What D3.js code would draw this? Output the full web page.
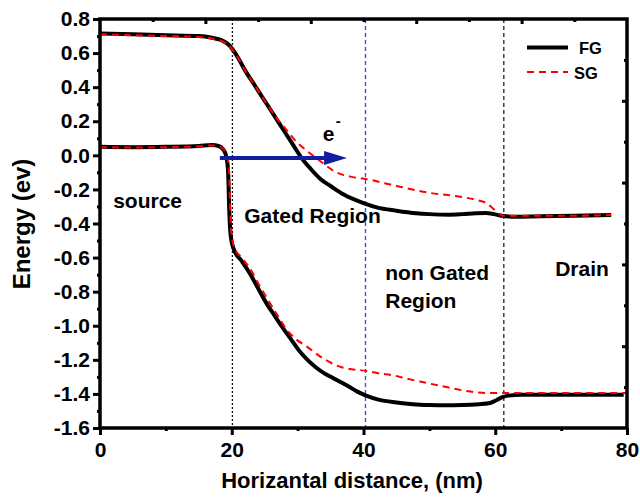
<!DOCTYPE html>
<html>
<head>
<meta charset="utf-8">
<script src="https://cdn.jsdelivr.net/npm/d3@7"></script>
<style>
  html, body { margin: 0; padding: 0; background: #fff; }
  svg text { font-family: "Liberation Sans", Arial, Helvetica, sans-serif; font-weight: bold; fill: #000; }
</style>
</head>
<body>
<svg id="chart" width="640" height="497"></svg>
<script>
// ---------------- DATA ----------------
const fgUpper = [[0,0.715],[5,0.71],[10,0.705],[15,0.70],[17,0.69],[18.5,0.675],[19.5,0.65],[20.2,0.618],[21,0.57],[22,0.50],[23.5,0.41],[25,0.32],[26.5,0.23],[28,0.14],[29.5,0.05],[30.5,-0.01],[32,-0.08],[33.5,-0.14],[35,-0.18],[37,-0.23],[40,-0.28],[42,-0.305],[45,-0.325],[48,-0.34],[50,-0.345],[53,-0.348],[55,-0.345],[57,-0.34],[58.6,-0.338],[59.8,-0.345],[61,-0.355],[63,-0.36],[67,-0.357],[72,-0.355],[77.6,-0.35]];
const sgUpper = [[0,0.71],[5,0.705],[10,0.70],[15,0.695],[17,0.685],[18.5,0.67],[19.5,0.645],[20.2,0.615],[21,0.57],[22,0.50],[23.5,0.41],[25,0.32],[26.8,0.22],[28.3,0.15],[29.8,0.08],[31.3,0.03],[33.3,-0.03],[35.9,-0.10],[38,-0.125],[40.5,-0.14],[45,-0.18],[50,-0.22],[55,-0.245],[57.5,-0.265],[58.6,-0.28],[59.6,-0.31],[60.5,-0.34],[61.3,-0.355],[65,-0.355],[70,-0.355],[77.6,-0.35]];
const fgLower = [[0,0.05],[5,0.048],[10,0.05],[15,0.055],[17,0.06],[18,0.055],[18.7,0.035],[19.2,-0.01],[19.45,-0.1],[19.6,-0.3],[19.75,-0.43],[19.95,-0.5],[20.3,-0.55],[21.5,-0.62],[22.7,-0.69],[24,-0.78],[25.3,-0.87],[26.5,-0.94],[27.7,-1.01],[29,-1.08],[30.3,-1.15],[31.5,-1.2],[32.8,-1.245],[34,-1.278],[35.3,-1.305],[36.5,-1.33],[37.9,-1.36],[39,-1.385],[40.4,-1.41],[42.4,-1.435],[45,-1.45],[47.5,-1.46],[50,-1.465],[52.5,-1.467],[55,-1.465],[57.5,-1.46],[59,-1.455],[60,-1.44],[61,-1.42],[62,-1.41],[64,-1.405],[70,-1.405],[75,-1.405],[79.5,-1.405]];
const sgLower = [[0,0.048],[5,0.046],[10,0.048],[15,0.053],[17,0.058],[18,0.053],[18.8,0.035],[19.3,-0.01],[19.6,-0.1],[19.75,-0.3],[19.9,-0.43],[20.1,-0.5],[20.4,-0.54],[21.5,-0.6],[22.7,-0.66],[24,-0.75],[25.3,-0.835],[26.8,-0.93],[28.3,-1.02],[29.8,-1.08],[31.3,-1.12],[33.8,-1.19],[36.8,-1.245],[40.4,-1.265],[42.4,-1.28],[44.4,-1.29],[46.5,-1.31],[49.5,-1.335],[52.6,-1.36],[56,-1.385],[59,-1.395],[61.7,-1.395],[66,-1.395],[72,-1.395],[79.8,-1.395]];

const xTicks = [0, 20, 40, 60, 80];
const xMinorTicks = [10, 30, 50, 70];
const yTicks = [0.8, 0.6, 0.4, 0.2, 0.0, -0.2, -0.4, -0.6, -0.8, -1.0, -1.2, -1.4, -1.6];
const yMinorTicks = [0.7, 0.5, 0.3, 0.1, -0.1, -0.3, -0.5, -0.7, -0.9, -1.1, -1.3, -1.5];
const topTicks = [8, 16, 24, 32, 40, 48, 56, 64, 72];
const rightTicks = [0.1, 0.2, 0.3, 0.4, 0.5, 0.6, 0.7, 0.8, 0.9];

const boundaries = [
  {x: 20.1, color: "#111", dash: "2,2"},
  {x: 40.3, color: "#3346f0", dash: "4,3"},
  {x: 61.3, color: "#222", dash: "4,3"}
];
const regionLabels = [
  {text: "source", x: 2, y: -0.31},
  {text: "Gated Region", x: 21.9, y: -0.395},
  {text: "non Gated", x: 43.3, y: -0.73},
  {text: "Region", x: 43.3, y: -0.895},
  {text: "Drain", x: 69.1, y: -0.71}
];
const eArrow = {x0: 18.2, x1: 37.5, y: -0.015};
const series = [
  {name: "FG", color: "#000", width: 4, dash: null},
  {name: "SG", color: "#ff0000", width: 2, dash: "7,5"}
];

// ---------------- CHART ----------------
const svg = d3.select("#chart");
const L = 100, R = 627, T = 19, B = 428;
const x = d3.scaleLinear().domain([0, 80]).range([L, R]);
const y = d3.scaleLinear().domain([-1.6, 0.8]).range([B, T]);
const yr = d3.scaleLinear().domain([0, 1]).range([B, T]);

// boundaries
svg.selectAll("line.bound").data(boundaries).enter().append("line")
  .attr("x1", d => x(d.x)).attr("x2", d => x(d.x))
  .attr("y1", T).attr("y2", B)
  .attr("stroke", d => d.color).attr("stroke-width", 1.3)
  .attr("stroke-dasharray", d => d.dash);

// curves
const line = d3.line().x(d => x(d[0])).y(d => y(d[1])).curve(d3.curveMonotoneX);
[[fgUpper, 0], [fgLower, 0], [sgUpper, 1], [sgLower, 1]].forEach(([data, si]) => {
  const s = series[si];
  svg.append("path").datum(data).attr("d", line)
    .attr("fill", "none").attr("stroke", s.color).attr("stroke-width", s.width)
    .attr("stroke-dasharray", s.dash).attr("stroke-linejoin", "round");
});

// arrow
const ax0 = x(eArrow.x0), ax1 = x(eArrow.x1), ay = y(eArrow.y);
svg.append("line").attr("x1", ax0).attr("x2", ax1 - 18).attr("y1", ay).attr("y2", ay)
  .attr("stroke", "#0f1f9f").attr("stroke-width", 4);
svg.append("path")
  .attr("d", `M${ax1 - 23},${ay - 7} L${ax1},${ay} L${ax1 - 23},${ay + 7} Z`)
  .attr("fill", "#0f1f9f");
svg.append("text").attr("x", x(33.8)).attr("y", y(0.083)).attr("font-size", 21).text("e");
svg.append("text").attr("x", x(35.8)).attr("y", y(0.17)).attr("font-size", 15).text("-");

// region labels
svg.selectAll("text.region").data(regionLabels).enter().append("text")
  .attr("x", d => x(d.x)).attr("y", d => y(d.y)).attr("font-size", 21).text(d => d.text);

// axes
const fmt = d => d.toFixed(1);
const gL = svg.append("g").attr("transform", `translate(${L},0)`)
  .call(d3.axisLeft(y).tickValues(yTicks).tickSize(7).tickPadding(3).tickFormat(fmt));
const gLm = svg.append("g").attr("transform", `translate(${L},0)`)
  .call(d3.axisLeft(y).tickValues(yMinorTicks).tickSize(3).tickFormat(""));
const gB = svg.append("g").attr("transform", `translate(0,${B})`)
  .call(d3.axisBottom(x).tickValues(xTicks).tickSize(7).tickPadding(7).tickFormat(d3.format("d")));
const gBm = svg.append("g").attr("transform", `translate(0,${B})`)
  .call(d3.axisBottom(x).tickValues(xMinorTicks).tickSize(3).tickFormat(""));
const gT = svg.append("g").attr("transform", `translate(0,${T})`)
  .call(d3.axisBottom(x).tickValues(topTicks).tickSize(0).tickFormat(""));
gT.selectAll(".tick line").attr("y2", d => (d % 16 === 0 ? 5 : 3));
const gR = svg.append("g").attr("transform", `translate(${R},0)`)
  .call(d3.axisLeft(yr).tickValues(rightTicks).tickSize(0).tickFormat(""));
gR.selectAll(".tick line").attr("x2", (d, i) => ((i + 1) % 2 === 0 ? -5 : -3));

[gL, gLm, gB, gBm, gT, gR].forEach(g => {
  g.select(".domain").remove();
  g.selectAll(".tick line").attr("stroke", "#000").attr("stroke-width", 3);
  g.selectAll("text").attr("font-size", 21).attr("fill", "#000")
    .style("font-family", "'Liberation Sans', Arial, sans-serif").style("font-weight", "bold");
});

// frame
svg.append("rect").attr("x", L).attr("y", T).attr("width", R - L).attr("height", B - T)
  .attr("fill", "none").attr("stroke", "#000").attr("stroke-width", 3.5);

// axis titles
svg.append("text").attr("x", 352).attr("y", 488).attr("text-anchor", "middle")
  .attr("font-size", 22).text("Horizantal distance, (nm)");
svg.append("text").attr("transform", "translate(30,224) rotate(-90)")
  .attr("text-anchor", "middle").attr("font-size", 24).text("Energy (ev)");

// legend
const leg = svg.append("g");
series.forEach((s, i) => {
  const ly = 47.5 + i * 24.5;
  leg.append("line").attr("x1", 527).attr("x2", 568).attr("y1", ly).attr("y2", ly)
    .attr("stroke", s.color).attr("stroke-width", s.width).attr("stroke-dasharray", s.dash);
  leg.append("text").attr("x", i === 0 ? 579 : 574).attr("y", ly + 6.5)
    .attr("font-size", 16.5).text(s.name);
});
</script>
</body>
</html>
